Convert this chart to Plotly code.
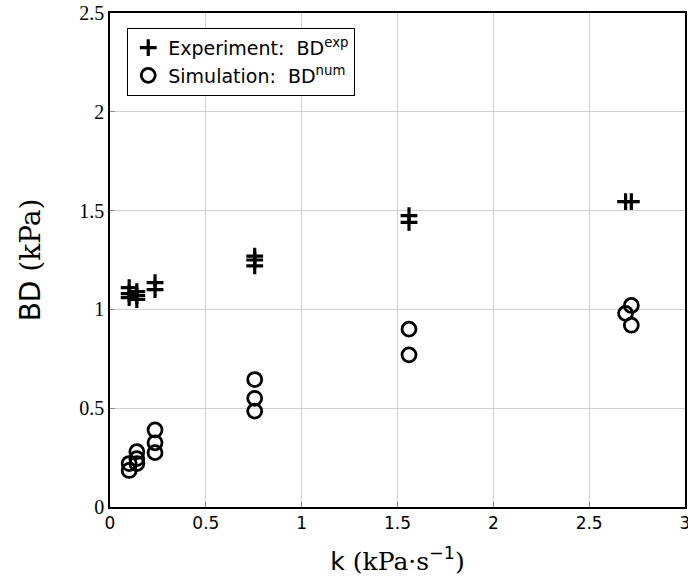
import plotly.graph_objects as go

# Experiment data
exp_k = [0.10, 0.10, 0.10, 0.14, 0.14, 0.14, 0.235, 0.235, 0.755, 0.755, 0.755, 1.56, 1.56, 2.69, 2.72]
exp_bd = [1.11, 1.08, 1.06, 1.09, 1.07, 1.05, 1.135, 1.10, 1.27, 1.25, 1.22, 1.475, 1.44, 1.545, 1.545]

# Simulation data
sim_k = [0.10, 0.10, 0.14, 0.14, 0.14, 0.235, 0.235, 0.235, 0.755, 0.755, 0.755, 1.56, 1.56, 2.69, 2.72, 2.72]
sim_bd = [0.22, 0.185, 0.28, 0.245, 0.22, 0.39, 0.325, 0.275, 0.645, 0.55, 0.485, 0.90, 0.77, 0.98, 1.02, 0.92]

x_ticks = [0, 0.5, 1, 1.5, 2, 2.5, 3]
x_ticklabels = ["0", "0.5", "1", "1.5", "2", "2.5", "3"]
y_ticks = [0, 0.5, 1, 1.5, 2, 2.5]
y_ticklabels = ["0", "0.5", "1", "1.5", "2", "2.5"]

SANS = "DejaVu Sans"
SERIF = "DejaVu Serif"

fig = go.Figure()
fig.add_trace(go.Scatter(
    x=exp_k, y=exp_bd, mode="markers",
    name="Experiment:  BD<sup>exp</sup>",
    marker=dict(symbol="cross-thin", size=12, color="black",
                line=dict(color="black", width=3.2)),
))
fig.add_trace(go.Scatter(
    x=sim_k, y=sim_bd, mode="markers",
    name="Simulation:  BD<sup>num</sup>",
    marker=dict(symbol="circle-open", size=14, color="black",
                line=dict(color="black", width=2.8)),
))

fig.update_layout(
    width=688, height=588,
    margin=dict(l=110, r=3, t=13, b=81),
    paper_bgcolor="white", plot_bgcolor="white",
    showlegend=True,
    legend=dict(x=0.03, y=0.97, xanchor="left", yanchor="top",
                bordercolor="black", borderwidth=1, bgcolor="white",
                font=dict(family=SANS, size=19, color="black"),
                itemwidth=30, tracegroupgap=0),
    xaxis=dict(range=[0, 3], tickvals=x_ticks, ticktext=x_ticklabels,
               automargin=False, ticklabeloverflow="allow",
               showgrid=True, gridcolor="#d0d0d0", gridwidth=1,
               showline=True, linecolor="black", linewidth=1.5, mirror=True,
               ticks="inside", ticklen=5, tickcolor="#888",
               tickfont=dict(family=SANS, size=17, color="black"),
               zeroline=False,
               title=dict(text="k <span style=\"font-family:'DejaVu Serif'\">(kPa·s</span><sup>−1</sup><span style=\"font-family:'DejaVu Serif'\">)</span>",
                          font=dict(family=SANS, size=25, color="black"), standoff=20)),
    yaxis=dict(range=[0, 2.5], tickvals=y_ticks, ticktext=y_ticklabels,
               automargin=False, ticklabeloverflow="allow",
               showgrid=True, gridcolor="#d0d0d0", gridwidth=1,
               showline=True, linecolor="black", linewidth=1.5, mirror=True,
               ticks="inside", ticklen=5, tickcolor="#888",
               tickfont=dict(family="Liberation Serif", size=20, color="black"),
               zeroline=False,
               title=dict(text="BD <span style=\"font-family:'DejaVu Serif'\">(kPa)</span>",
                          font=dict(family=SANS, size=28, color="black"), standoff=30)),
)

fig.write_html("out.html", config={"displayModeBar": False},
               post_script="document.body.style.margin='0';document.body.style.overflow='hidden';")
